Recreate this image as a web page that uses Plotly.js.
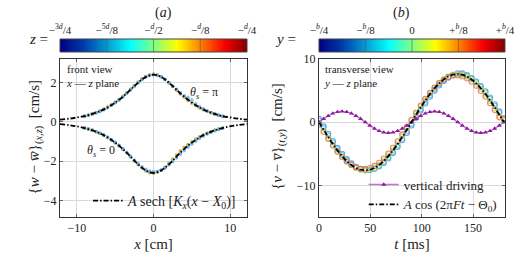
<!DOCTYPE html>
<html><head><meta charset="utf-8">
<script src="https://cdn.plot.ly/plotly-3.0.1.min.js"></script>
<style>html,body{margin:0;padding:0;background:#fff}#c{width:532px;height:256px}</style>
</head><body><div id="c"></div>
<script>
// ---------- panel (a) ----------
const xFit = [-12.2,-11,-10,-9,-8,-7,-6.5,-6,-5.5,-5,-4.5,-4,-3.5,-3,-2.5,-2,-1.5,-1,-0.5,0,0.5,1,1.5,2,2.5,3,3.5,4,4.5,5,5.5,6,6.5,7,8,9,10,11,12.2];
const fitUpper = [0.11,0.16,0.22,0.29,0.40,0.54,0.63,0.73,0.85,0.98,1.12,1.28,1.45,1.64,1.82,2.00,2.16,2.29,2.37,2.40,2.37,2.29,2.16,2.00,1.82,1.64,1.45,1.28,1.12,0.98,0.85,0.73,0.63,0.54,0.40,0.29,0.22,0.16,0.11];
const fitLower = [-0.12,-0.17,-0.23,-0.32,-0.43,-0.59,-0.68,-0.79,-0.92,-1.06,-1.21,-1.39,-1.57,-1.77,-1.98,-2.17,-2.34,-2.48,-2.57,-2.60,-2.57,-2.48,-2.34,-2.17,-1.98,-1.77,-1.57,-1.39,-1.21,-1.06,-0.92,-0.79,-0.68,-0.59,-0.43,-0.32,-0.23,-0.17,-0.12];

const xData = [-9,-8.5,-8,-7.5,-7,-6.5,-6,-5.5,-5,-4.5,-4,-3.5,-3,-2.5,-2,-1.5,-1,-0.5,0,0.5,1,1.5,2,2.5,3,3.5,4,4.5,5,5.5,6,6.5,7,7.5,8,8.5,9];
const upRed    = [0.30,0.35,0.41,0.48,0.56,0.65,0.75,0.87,1.00,1.14,1.30,1.47,1.66,1.85,2.03,2.19,2.32,2.40,2.43,2.39,2.30,2.16,1.99,1.80,1.61,1.42,1.25,1.09,0.95,0.82,0.71,0.61,0.53,0.46,0.39,0.33,0.28];
const upOrange = [0.30,0.35,0.41,0.48,0.56,0.65,0.75,0.87,1.00,1.14,1.30,1.47,1.65,1.84,2.02,2.18,2.31,2.39,2.42,2.38,2.29,2.15,1.98,1.80,1.61,1.42,1.25,1.10,0.96,0.83,0.72,0.62,0.53,0.46,0.39,0.33,0.28];
const upYellow = [0.29,0.34,0.40,0.47,0.55,0.64,0.74,0.86,0.99,1.13,1.29,1.46,1.64,1.83,2.01,2.17,2.30,2.38,2.41,2.38,2.29,2.16,2.00,1.82,1.63,1.44,1.27,1.11,0.97,0.84,0.72,0.62,0.54,0.46,0.39,0.33,0.28];
const upCyan   = [0.28,0.33,0.39,0.46,0.53,0.62,0.72,0.84,0.97,1.11,1.27,1.45,1.63,1.81,1.99,2.15,2.28,2.36,2.39,2.36,2.28,2.15,1.99,1.82,1.65,1.47,1.31,1.16,1.02,0.88,0.75,0.64,0.55,0.47,0.40,0.34,0.29];
const upBlue   = [0.27,0.32,0.38,0.45,0.53,0.62,0.72,0.84,0.97,1.11,1.27,1.44,1.62,1.81,1.99,2.15,2.28,2.36,2.40,2.37,2.29,2.16,2.00,1.83,1.66,1.48,1.33,1.25,1.12,0.92,0.78,0.66,0.56,0.47,0.40,0.34,0.29];
const loRed    = [-0.33,-0.38,-0.44,-0.52,-0.60,-0.70,-0.81,-0.94,-1.08,-1.23,-1.41,-1.59,-1.79,-2.00,-2.19,-2.36,-2.50,-2.59,-2.62,-2.57,-2.47,-2.31,-2.12,-1.91,-1.70,-1.49,-1.31,-1.15,-1.01,-0.88,-0.76,-0.66,-0.57,-0.49,-0.42,-0.36,-0.31];
const loOrange = [-0.32,-0.37,-0.43,-0.51,-0.59,-0.69,-0.80,-0.93,-1.07,-1.22,-1.40,-1.58,-1.78,-1.99,-2.18,-2.35,-2.49,-2.58,-2.61,-2.56,-2.46,-2.30,-2.11,-1.90,-1.68,-1.48,-1.30,-1.14,-1.00,-0.87,-0.76,-0.66,-0.57,-0.49,-0.42,-0.36,-0.31];
const loYellow = [-0.32,-0.37,-0.43,-0.51,-0.59,-0.69,-0.80,-0.93,-1.07,-1.22,-1.40,-1.58,-1.78,-1.99,-2.18,-2.35,-2.49,-2.58,-2.61,-2.57,-2.48,-2.33,-2.15,-1.95,-1.74,-1.54,-1.36,-1.19,-1.04,-0.90,-0.78,-0.67,-0.58,-0.50,-0.42,-0.36,-0.31];
const loCyan   = [-0.31,-0.36,-0.42,-0.50,-0.58,-0.67,-0.78,-0.91,-1.05,-1.20,-1.38,-1.56,-1.76,-1.97,-2.16,-2.33,-2.47,-2.56,-2.59,-2.56,-2.47,-2.34,-2.18,-2.00,-1.80,-1.60,-1.42,-1.24,-1.08,-0.94,-0.81,-0.69,-0.60,-0.52,-0.44,-0.37,-0.32];
const loBlue   = [-0.30,-0.35,-0.41,-0.49,-0.57,-0.66,-0.77,-0.90,-1.04,-1.19,-1.37,-1.55,-1.75,-1.95,-2.13,-2.29,-2.42,-2.50,-2.53,-2.52,-2.46,-2.35,-2.20,-2.03,-1.84,-1.65,-1.47,-1.30,-1.14,-0.99,-0.85,-0.73,-0.63,-0.54,-0.46,-0.39,-0.33];

// ---------- panel (b) ----------
const tVals = [0,4.5,9,13.5,18,22.5,27,31.5,36,40.5,45,49.5,54,58.5,63,67.5,72,76.5,81,85.5,90,94.5,99,103.5,108,112.5,117,121.5,126,130.5,135,139.5,144,148.5,153,157.5,162,166.5,171,175.5,180];
const fitCos = [0,-1.19,-2.35,-3.45,-4.47,-5.37,-6.15,-6.77,-7.23,-7.51,-7.60,-7.51,-7.23,-6.77,-6.15,-5.37,-4.47,-3.45,-2.35,-1.19,0,1.19,2.35,3.45,4.47,5.37,6.15,6.77,7.23,7.51,7.60,7.51,7.23,6.77,6.15,5.37,4.47,3.45,2.35,1.19,0];
const driving = [0,0.53,1.00,1.38,1.62,1.70,1.62,1.38,1.00,0.53,0,-0.53,-1.00,-1.38,-1.62,-1.70,-1.62,-1.38,-1.00,-0.53,0,0.53,1.00,1.38,1.62,1.70,1.62,1.38,1.00,0.53,0,-0.53,-1.00,-1.38,-1.62,-1.70,-1.62,-1.38,-1.00,-0.53,0];
const vRed    = [-0.39,-1.54,-2.65,-3.70,-4.66,-5.50,-6.21,-6.76,-7.15,-7.36,-7.39,-7.24,-6.91,-6.41,-5.75,-4.95,-4.03,-3.01,-1.92,-0.77,0.39,1.54,2.65,3.70,4.66,5.50,6.21,6.76,7.15,7.36,7.39,7.24,6.91,6.41,5.75,4.95,4.03,3.01,1.92,0.77,0.60];
const vYellow = [-0.15,-1.32,-2.47,-3.56,-4.57,-5.45,-6.22,-6.80,-7.25,-7.52,-7.60,-7.49,-7.20,-6.73,-6.08,-5.28,-4.36,-3.33,-2.20,-1.03,0.15,1.32,2.47,3.56,4.57,5.45,6.22,6.80,7.25,7.52,7.60,7.49,7.20,6.73,6.08,5.28,4.36,3.33,2.20,1.03,0.30];
const vCyan   = [0.27,-0.93,-2.10,-3.22,-4.26,-5.19,-6.00,-6.65,-7.15,-7.47,-7.60,-7.55,-7.31,-6.90,-6.32,-5.57,-4.70,-3.69,-2.61,-1.45,-0.27,0.93,2.10,3.22,4.26,5.19,6.00,6.65,7.15,7.47,7.60,7.55,7.31,6.90,6.32,5.57,4.70,3.69,2.61,1.45,0.27];
const vBlue   = [0.53,-0.66,-1.84,-2.97,-4.03,-4.99,-5.82,-6.51,-7.05,-7.41,-7.58,-7.57,-7.37,-7.00,-6.45,-5.74,-4.89,-3.91,-2.85,-1.71,-0.53,0.66,1.84,2.97,4.03,4.99,5.82,6.51,7.05,7.50,7.75,7.72,7.45,7.00,6.45,5.74,4.89,3.91,2.85,1.71,0.53];

// ---------- colour bars ----------
const zTickVals = [0,0.25,0.5,0.75,1];
const zTickText = ['−<sup>3<i>d</i></sup>/4','−<sup>5<i>d</i></sup>/8','−<sup><i>d</i></sup>/2','−<sup><i>d</i></sup>/8','−<sup><i>d</i></sup>/4'];
const yTickText = ['−<sup><i>b</i></sup>/4','−<sup><i>b</i></sup>/8','0','+<sup><i>b</i></sup>/8','+<sup><i>b</i></sup>/4'];

const F = 'Liberation Serif, DejaVu Serif, serif';
const C = '#222';
const traces = [];
function dots(x, y, col) {
  traces.push({x:x, y:y, xaxis:'x', yaxis:'y', type:'scatter', mode:'markers', showlegend:false, hoverinfo:'skip',
    marker:{size:3.5, color:col}});
}
[[upRed,loRed,'rgba(230,40,20,0.45)'],[upOrange,loOrange,'rgba(255,150,0,0.45)'],[upYellow,loYellow,'rgba(200,240,40,0.5)'],
 [upCyan,loCyan,'rgba(0,210,240,0.45)'],[upBlue,loBlue,'rgba(90,140,255,0.6)']].forEach(s=>{
  dots(xData, s[0], s[2]);
  dots(xData, s[1], s[2]);
});
const dashFit = '5px,2px,1.5px,2px';
traces.push({x:xFit, y:fitUpper, xaxis:'x', yaxis:'y', type:'scatter', mode:'lines', line:{color:'#000', width:1.8, dash:dashFit, shape:'spline'}, showlegend:false});
traces.push({x:xFit, y:fitLower, xaxis:'x', yaxis:'y', type:'scatter', mode:'lines', line:{color:'#000', width:1.8, dash:dashFit, shape:'spline'},
  name:'<i>A</i> sech [<i>K<sub>x</sub></i>(<i>x</i> − <i>X</i><sub>0</sub>)]', legend:'legend', showlegend:true});

function circles(y, col) {
  traces.push({x:tVals, y:y, xaxis:'x2', yaxis:'y2', type:'scatter', mode:'markers', showlegend:false, hoverinfo:'skip',
    marker:{size:5, symbol:'circle-open', color:col, line:{width:1.1, color:col}}});
}
circles(vBlue, 'rgba(60,110,255,0.7)');
circles(vCyan, 'rgba(0,200,240,0.7)');
circles(vYellow, 'rgba(180,225,30,0.75)');
circles(vRed, 'rgba(235,100,80,0.8)');
traces.push({x:tVals, y:driving, xaxis:'x2', yaxis:'y2', type:'scatter', mode:'lines+markers',
  line:{color:'rgba(175,70,185,0.75)', width:1.3, shape:'spline'}, marker:{symbol:'triangle-up', size:4.5, color:'#8e1a9c'},
  name:'vertical driving', legend:'legend2'});
traces.push({x:tVals, y:fitCos, xaxis:'x2', yaxis:'y2', type:'scatter', mode:'lines', line:{color:'#000', width:1.8, dash:dashFit, shape:'spline'},
  name:'<i>A</i> cos (2π<i>Ft</i> − Θ<sub>0</sub>)', legend:'legend2'});

// colour bar gradients
const nC = 120;
const cbX = [], cbZ = [];
for (let i = 0; i <= nC; i++) { cbX.push(i / nC); cbZ.push(i / nC); }
['x3','x4'].forEach((xa,k)=>{
  traces.push({type:'heatmap', x:cbX, y:[0,1], z:[cbZ,cbZ], xaxis:xa, yaxis:k?'y4':'y3', colorscale:'Jet', showscale:false, hoverinfo:'skip', zsmooth:'best'});
});

const ax = {showgrid:true, gridcolor:'#d9d9d9', zeroline:false, showline:true, linecolor:'#333', linewidth:1, mirror:'ticks',
  ticks:'inside', ticklen:3, tickcolor:'#666', tickfont:{size:12, family:F, color:C}};
const L = {
  width:532, height:256, margin:{l:0,r:0,t:0,b:0}, paper_bgcolor:'#fff', plot_bgcolor:'#fff',
  font:{family:F, size:12, color:C},
  xaxis:Object.assign({}, ax, {domain:[0.1128,0.4643], range:[-12.2,12.2], tickvals:[-10,0,10], ticktext:['−10','0','10'], anchor:'y',
    title:{text:'<i>x</i> [cm]', font:{size:15, family:F, color:C}, standoff:4}}),
  yaxis:Object.assign({}, ax, {domain:[0.1523,0.7695], range:[-4.85,3.2], tickvals:[-4,-2,0,2], ticktext:['−4','−2','0','2'], anchor:'x'}),
  xaxis2:Object.assign({}, ax, {domain:[0.5996,0.9492], range:[0,181], tickvals:[0,50,100,150], anchor:'y2',
    title:{text:'<i>t</i> [ms]', font:{size:15, family:F, color:C}, standoff:4}}),
  yaxis2:Object.assign({}, ax, {domain:[0.1523,0.7695], range:[-15,10], tickvals:[-10,0,10], ticktext:['−10','0','10'], anchor:'x2'}),
  xaxis3:{domain:[0.1128,0.4643], range:[0,1], side:'top', tickvals:zTickVals, ticktext:zTickText, ticks:'', showgrid:false, zeroline:false,
    showline:false, anchor:'y3', tickfont:{size:11, family:F, color:C}, ticklabelstandoff:2},
  yaxis3:{domain:[0.7969,0.8477], range:[0,1], visible:false, anchor:'x3'},
  xaxis4:{domain:[0.5996,0.9492], range:[0,1], side:'top', tickvals:zTickVals, ticktext:yTickText, ticks:'', showgrid:false, zeroline:false,
    showline:false, anchor:'y4', tickfont:{size:11, family:F, color:C}, ticklabelstandoff:2},
  yaxis4:{domain:[0.7969,0.8477], range:[0,1], visible:false, anchor:'x4'},
  legend:{x:0.455, xanchor:'right', y:0.215, yanchor:'middle', bgcolor:'rgba(255,255,255,0)', font:{size:14, family:F, color:C},
    itemwidth:30, tracegroupgap:0},
  legend2:{x:0.945, xanchor:'right', y:0.24, yanchor:'middle', bgcolor:'rgba(255,255,255,0)', font:{size:13, family:F, color:C},
    itemwidth:30, tracegroupgap:0},
  shapes: [],
  annotations: [
    {text:'(<i>a</i>)', x:0.288, y:1-3/256, yanchor:'top', xref:'paper', yref:'paper', showarrow:false, font:{size:14, family:F, color:C}},
    {text:'(<i>b</i>)', x:0.775, y:1-3/256, yanchor:'top', xref:'paper', yref:'paper', showarrow:false, font:{size:14, family:F, color:C}},
    {text:'<i>z</i> =', x:0.05, y:1-29/256, xref:'paper', yref:'paper', showarrow:false, font:{size:15, family:F, color:C}},
    {text:'<i>y</i> =', x:0.537, y:1-29/256, xref:'paper', yref:'paper', showarrow:false, font:{size:15, family:F, color:C}},
    {text:'{<i>w</i> − <i>w̅</i>}<sub>(<i>x,z</i>)</sub>  [cm/s]', x:23/532, y:1-137/256, textangle:-90, xref:'paper', yref:'paper', showarrow:false, font:{size:15, family:F, color:C}},
    {text:'{<i>v</i> − <i>v̅</i>}<sub>(<i>t,y</i>)</sub>  [cm/s]', x:278/532, y:1-137/256, textangle:-90, xref:'paper', yref:'paper', showarrow:false, font:{size:15, family:F, color:C}},
    {text:'front view<br><i>x</i> — <i>z</i> plane', x:0.12, y:0.762, xref:'paper', yref:'paper', xanchor:'left', yanchor:'top', align:'left', showarrow:false, font:{size:11, family:F, color:C}},
    {text:'transverse view<br><i>y</i> — <i>z</i> plane', x:0.606, y:0.762, xref:'paper', yref:'paper', xanchor:'left', yanchor:'top', align:'left', showarrow:false, font:{size:11, family:F, color:C}},
    {text:'<i>θ<sub>s</sub></i> = π', x:6.6, y:1.45, xref:'x', yref:'y', showarrow:false, font:{size:12, family:F, color:C}},
    {text:'<i>θ<sub>s</sub></i> = 0', x:-6.8, y:-1.5, xref:'x', yref:'y', showarrow:false, font:{size:12, family:F, color:C}}
  ]
};
[['x3','y3'],['x4','y4']].forEach(p=>{
  [0.25,0.5,0.75].forEach(v=>L.shapes.push({type:'line', xref:p[0], yref:p[1]+' domain', x0:v, x1:v, y0:0, y1:1, line:{color:'rgba(90,90,90,0.6)', width:1}}));
  L.shapes.push({type:'rect', xref:p[0]+' domain', yref:p[1]+' domain', x0:0, x1:1, y0:0, y1:1, line:{color:'#444', width:1}});
});
Plotly.newPlot('c', traces, L, {displayModeBar:false, staticPlot:true});
</script></body></html>
